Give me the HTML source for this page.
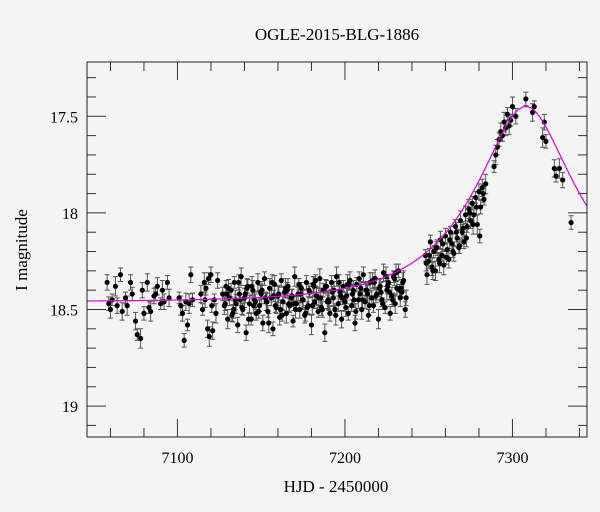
<!DOCTYPE html>
<html><head><meta charset="utf-8"><style>
html,body{margin:0;padding:0;background:#f4f4f4;}
svg{display:block;font-family:"Liberation Serif",serif;}
</style></head><body>
<svg id="chart" width="600" height="512" viewBox="0 0 600 512">
<rect width="600" height="512" fill="#f4f4f4"/>
<text x="337" y="40" font-size="17" text-anchor="middle">OGLE-2015-BLG-1886</text>
<text x="336" y="492" font-size="17" text-anchor="middle">HJD - 2450000</text>
<text transform="translate(27,250) rotate(-90)" font-size="17" text-anchor="middle">I magnitude</text>
<g id="ticks"></g>
<g id="errs"></g>
<g id="pts"></g>
<path id="model" fill="none" stroke="#e000e0" stroke-width="1.2"/>
<rect x="87" y="62" width="500" height="375" fill="none" stroke="#222" stroke-width="1"/>
</svg>
<script>
const xTicks=[7100,7200,7300];
const yTicks=[17.5,18,18.5,19];
const yTickLabels=["17.5","18","18.5","19"];
const timesA=[7058,7059,7060,7061,7063,7064,7066,7067,7069,7070,7072,7073,7075,7076,7078,7079,7080,7082,7083,7084,7086,7087,7088,7090,7091,7092,7094,7095];
const magsA=[18.36,18.47,18.5,18.45,18.38,18.48,18.32,18.51,18.44,18.48,18.36,18.42,18.56,18.63,18.65,18.4,18.52,18.36,18.49,18.51,18.43,18.42,18.38,18.47,18.40,18.46,18.36,18.44];
const timesB=[7101,7102,7103,7104,7105,7106,7107,7108,7109];
const magsB=[18.44,18.48,18.52,18.66,18.46,18.58,18.47,18.32,18.45];
const timesC=[7114,7115,7116,7116.5,7117,7118,7118.5,7119,7120,7120.5,7121,7122,7123,7124];
const magsC=[18.42,18.5,18.36,18.45,18.39,18.6,18.34,18.64,18.32,18.48,18.61,18.45,18.52,18.35];
const timesD=[7127,7128,7129,7130,7131,7132,7133,7134,7135,7136,
7137,7138,7139,7140,7141,7142,7143,7144,7145,7146,
7147,7148,7149,7150,7151,7152,7153,7154,7155,7156,
7157,7158,7159,7160,7161,7162,7163,7164,7165,7166,
7167,7168,7169,7170,7171,7172,7173,7174,7175,7176,
7177,7178,7179,7180,7181,7182,7183,7184,7185,7186,
7187,7188,7189,7190,7191,7192,7193,7194,7195,7196,
7197,7198,7199,7200,7201,7202,7203,7204,7205,7206,
7207,7208,7209,7210,7211,7212,7213,7214,7215,7216,
7217,7218,7219,7220,7221,7222,7223,7224,7225,7226,
7227,7228,7229,7230,7231,7232,7233,7234,7235,7236];
const magsD=[18.42,18.48,18.38,18.55,18.44,18.40,18.52,18.36,18.47,18.58,
18.42,18.33,18.50,18.44,18.62,18.38,18.47,18.55,18.40,18.45,
18.52,18.36,18.48,18.42,18.57,18.34,18.46,18.51,18.39,18.44,
18.60,18.37,18.49,18.43,18.54,18.35,18.46,18.41,18.52,18.38,
18.48,18.44,18.56,18.33,18.47,18.42,18.50,18.39,18.45,18.53,
18.36,18.48,18.41,18.58,18.37,18.46,18.43,18.51,18.34,18.49,
18.40,18.62,18.38,18.45,18.52,18.36,18.44,18.50,18.33,18.47,
18.41,18.55,18.38,18.46,18.43,18.52,18.35,18.48,18.40,18.57,
18.37,18.45,18.42,18.50,18.32,18.46,18.40,18.53,18.36,18.44,
18.48,18.34,18.42,18.55,18.38,18.45,18.31,18.49,18.40,18.36,
18.52,18.43,18.33,18.47,18.39,18.30,18.44,18.41,18.35,18.50];
const timesE=[7128.5,7130.5,7132.5,7134.5,7136.5,7138.5,7140.5,7142.5,7144.5,7146.5,7148.5,
7150.5,7152.5,7154.5,7156.5,7158.5,7160.5,7162.5,7164.5,7166.5,7168.5,7170.5,
7172.5,7174.5,7176.5,7178.5,7180.5,7182.5,7184.5,7186.5,7188.5,7190.5,7192.5,
7194.5,7196.5,7198.5,7200.5,7202.5,7204.5,7206.5,7208.5,7210.5,7212.5,7214.5,
7216.5,7218.5,7220.5,7222.5,7224.5,7226.5,7228.5,7230.5,7232.5,7234.5,7236.5];
const magsE=[18.47,18.39,18.53,18.45,18.36,18.49,18.42,18.55,18.38,18.46,18.51,
18.40,18.44,18.57,18.36,18.48,18.42,18.53,18.39,18.47,18.43,18.50,
18.37,18.45,18.52,18.40,18.48,18.35,18.44,18.50,18.38,18.46,18.41,
18.53,18.36,18.44,18.49,18.37,18.42,18.51,18.34,18.45,18.40,18.48,
18.35,18.43,18.39,18.47,18.33,18.41,18.45,18.31,18.40,18.36,18.44];
const timesF=[7129.5,7133.5,7137.5,7141.5,7145.5,7149.5,7153.5,7157.5,7161.5,7165.5,7169.5,7173.5,7177.5,7181.5,7185.5,7189.5,7193.5,7197.5,7201.5,7205.5,7209.5,7213.5,7217.5,7221.5,7225.5,7229.5,7233.5];
const magsF=[18.42,18.50,18.45,18.39,18.48,18.41,18.46,18.43,18.50,18.40,18.47,18.42,18.49,18.38,18.44,18.46,18.40,18.43,18.37,18.45,18.39,18.42,18.36,18.41,18.38,18.34,18.39];
const timesG=[7248,7249,7250,7251,7252,7253,7254,7255,7256,7257,
7258,7259,7260,7261,7262,7263,7264,7265,7266,7267,
7268,7269,7270,7271,7272,7273,7274,7275,7276,7277,
7278,7279,7280,7281,7282,7283,7284];
const magsG=[18.22,18.32,18.25,18.15,18.28,18.20,18.30,18.18,18.24,18.14,
18.22,18.27,18.12,18.19,18.24,18.10,18.16,18.21,18.07,18.13,
18.18,18.04,18.10,18.15,18.01,18.07,17.98,18.04,17.95,18.01,
17.92,18.06,17.89,17.97,17.87,17.93,17.85];
const timesH=[7248.5,7250.5,7252.5,7254.5,7256.5,7258.5,7260.5,7262.5,7264.5,7266.5,7268.5,7270.5,7272.5,7274.5,7276.5,7278.5,7280.5,7282.5];
const magsH=[18.26,18.22,18.30,18.18,18.26,18.16,18.23,18.14,18.20,18.10,18.17,18.08,18.13,18.00,18.06,17.97,18.12,17.90];
const timesI=[7289,7290,7291,7292,7293,7294,7295,7296,7297,7298,7299];
const magsI=[17.76,17.70,17.66,17.62,17.58,17.60,17.53,17.56,17.49,17.55,17.52];
const timesJ=[7300,7302,7308,7312,7313,7318,7319,7320,7325,7326,7328,7330,7335];
const magsJ=[17.45,17.50,17.41,17.48,17.45,17.61,17.53,17.63,17.77,17.81,17.77,17.83,18.05];

const times=[].concat(timesA,timesB,timesC,timesD,timesE,timesF,timesG,timesH,timesI,timesJ);
const mags=[].concat(magsA,magsB,magsC,magsD,magsE,magsF,magsG,magsH,magsI,magsJ);
const errs=times.map((t,i)=>[0.04,0.035,0.045,0.03,0.05][i%5]);

const x0=7046,x1=7344.5,y0=17.219,y1=19.16,L=87,R=587,T=62,B=437;
const sx=t=>L+(t-x0)/(x1-x0)*(R-L);
const sy=m=>T+(m-y0)/(y1-y0)*(B-T);
const NS='http://www.w3.org/2000/svg';
function mk(tag,attrs,parent){const e=document.createElementNS(NS,tag);for(const k in attrs)e.setAttribute(k,attrs[k]);parent.appendChild(e);return e;}
const tg=document.getElementById('ticks');
for(let t=7060;t<=7340;t+=20){const major=t%100===0;const len=major?18:9;const X=sx(t);
 const a=mk('line',{x1:X,y1:B,x2:X,y2:B-len,stroke:'#333'},tg);
 
 
 const b=mk('line',{x1:X,y1:T,x2:X,y2:T+len,stroke:'#333'},tg);
 
 }
xTicks.forEach(t=>{const e=mk('text',{x:sx(t),y:B+26,'font-size':16,'text-anchor':'middle'},tg);e.textContent=t;
 
 });
for(let k=0;k<=19;k++){const m=17.3+k*0.1;if(m>y1)break;const Y=sy(m);const major=Math.abs(m*2-Math.round(m*2))<1e-6;const len=major?19:9;
 const a=mk('line',{x1:L,y1:Y,x2:L+len,y2:Y,stroke:'#333'},tg);
 
 
 const b=mk('line',{x1:R,y1:Y,x2:R-len,y2:Y,stroke:'#333'},tg);
 
 }
yTicks.forEach((m,i)=>{const e=mk('text',{x:L-9,y:sy(m)+6,'font-size':16,'text-anchor':'end'},tg);e.textContent=yTickLabels[i];
 
 });
const eg=document.getElementById('errs'),pg=document.getElementById('pts');
times.forEach((t,i)=>{const X=sx(t),Ya=sy(mags[i]-errs[i]),Yb=sy(mags[i]+errs[i]),Y=sy(mags[i]);
 const p=mk('path',{d:`M${X},${Ya}V${Yb}M${X-2.5},${Ya}h5M${X-2.5},${Yb}h5`,stroke:'#555','stroke-width':1,fill:'none'},eg);
 
 
 const c=mk('circle',{cx:X,cy:Y,r:2.6,fill:'#000'},pg);
 
 });
const I0=18.46,t0=7308,tE=57,u0=0.42;
let d='';for(let t=x0;t<=x1;t+=0.5){const tau=(t-t0)/tE,u=Math.sqrt(u0*u0+tau*tau);const A=(u*u+2)/(u*Math.sqrt(u*u+4));const m=I0-2.5*Math.log10(A);d+=(d?'L':'M')+sx(t).toFixed(2)+','+sy(m).toFixed(2);}
document.getElementById('model').setAttribute('d',d);
</script>
</body></html>
